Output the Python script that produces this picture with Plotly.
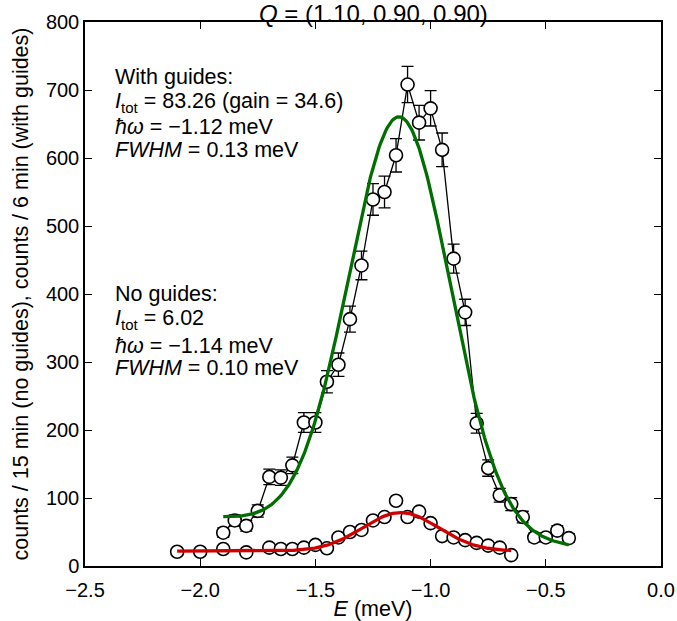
import numpy as np
import plotly.graph_objects as go

# ---- data: with guides (counts / 6 min)
E_with = [-1.90, -1.85, -1.80, -1.75, -1.70, -1.65, -1.60, -1.55, -1.50, -1.45,
          -1.40, -1.35, -1.30, -1.25, -1.20, -1.15, -1.10, -1.05, -1.00, -0.95,
          -0.90, -0.85, -0.80, -0.75, -0.70, -0.65, -0.60, -0.55, -0.50, -0.45, -0.40]
I_with = [49, 67, 59, 81, 131, 130, 148, 211, 211, 271,
          296, 363, 442, 539, 550, 604, 708, 652, 673, 612,
          452, 373, 210, 144, 104, 91, 72, 42, 42, 52, 41]

# ---- data: no guides (counts / 15 min)
E_no = [-2.10, -2.00, -1.90, -1.80, -1.70, -1.65, -1.60, -1.55, -1.50, -1.45,
        -1.40, -1.35, -1.30, -1.25, -1.20, -1.15, -1.10, -1.05, -1.00, -0.95,
        -0.90, -0.85, -0.80, -0.75, -0.70, -0.65]
I_no = [21, 21, 25, 20, 27, 25, 25, 27, 31, 26,
        42, 50, 53, 67, 72, 96, 72, 80, 63, 44,
        42, 38, 34, 30, 27, 16]

# ---- fit parameters (Gaussian + linear background)
fit_with = dict(center=-1.135, sigma=0.22, amp=611.0, bg=49.6, slope=-28.1)
fit_no = dict(center=-1.13, sigma=0.165, amp=56.5, bg=22.0, slope=0.0)

x_ticks = [-2.5, -2.0, -1.5, -1.0, -0.5, 0.0]
y_ticks = [0, 100, 200, 300, 400, 500, 600, 700, 800]


def model(E, p):
    E = np.asarray(E)
    return p["bg"] + p["slope"] * (E - p["center"]) + p["amp"] * np.exp(-0.5 * ((E - p["center"]) / p["sigma"]) ** 2)


Ew = np.linspace(min(E_with), max(E_with), 300)
En = np.linspace(min(E_no), max(E_no), 300)

FONT = "Liberation Sans, Arial, Helvetica, sans-serif"
TXT = 21.5

fig = go.Figure()
fig.add_trace(go.Scatter(
    x=E_with, y=I_with, mode="lines+markers",
    line=dict(color="black", width=1.3),
    marker=dict(symbol="circle", size=13, color="white", line=dict(color="black", width=1.6)),
    error_y=dict(type="data", array=list(np.sqrt(I_with)), color="black", thickness=1.3, width=6),
    showlegend=False,
))
fig.add_trace(go.Scatter(
    x=E_no, y=I_no, mode="markers",
    marker=dict(symbol="circle", size=13, color="white", line=dict(color="black", width=1.6)),
    showlegend=False,
))
fig.add_trace(go.Scatter(x=Ew, y=model(Ew, fit_with), mode="lines",
                         line=dict(color="rgb(0,110,0)", width=3.3), showlegend=False))
fig.add_trace(go.Scatter(x=En, y=model(En, fit_no), mode="lines",
                         line=dict(color="rgb(208,0,0)", width=3.3), showlegend=False))

axis_common = dict(
    showgrid=False, zeroline=False, showline=True, linecolor="black", linewidth=1.5,
    mirror="ticks", ticks="inside", ticklen=7, tickwidth=1.2, tickcolor="black",
    tickfont=dict(family=FONT, size=20, color="black"), automargin=False,
)

fig.update_xaxes(range=[-2.5, 0.0], tickvals=x_ticks, tickformat=".1f", ticklabelstandoff=5,
                 title=dict(text="<i>E</i> (meV)", font=dict(family=FONT, size=TXT, color="black"), standoff=6),
                 **axis_common)
fig.update_yaxes(range=[0, 800], tickvals=y_ticks,
                 title=dict(text="counts / 15 min (no guides), counts / 6 min (with guides)",
                            font=dict(family=FONT, size=TXT, color="black"), standoff=11),
                 **axis_common)

ann = []
ann.append(dict(text="<i>Q</i> = (1.10, 0.90, 0.90)", xref="paper", yref="paper",
                x=0.5, y=1 + (22 - 13.5) / 544, xanchor="center", yanchor="middle",
                showarrow=False, font=dict(family=FONT, size=24, color="black")))

lines1 = ["With guides:",
          "<i>I</i><sub>tot</sub> = 83.26 (gain = 34.6)",
          "<i>ħω</i> = −1.12 meV",
          "<i>FWHM</i> = 0.13 meV"]
lines2 = ["No guides:",
          "<i>I</i><sub>tot</sub> = 6.02",
          "<i>ħω</i> = −1.14 meV",
          "<i>FWHM</i> = 0.10 meV"]
centers1 = [77, 102, 127, 149.5]
centers2 = [294, 319, 346, 368]
for txt, cy in list(zip(lines1, centers1)) + list(zip(lines2, centers2)):
    ann.append(dict(text=txt, xref="paper", yref="paper",
                    x=(113 - 85) / 576, y=1 - (cy - 22) / 544,
                    xanchor="left", yanchor="middle", showarrow=False,
                    font=dict(family=FONT, size=TXT, color="black")))

fig.update_layout(
    width=677, height=621,
    margin=dict(l=85, r=16, t=22, b=55),
    plot_bgcolor="white", paper_bgcolor="white",
    annotations=ann,
)

fig.write_html("out.html")
